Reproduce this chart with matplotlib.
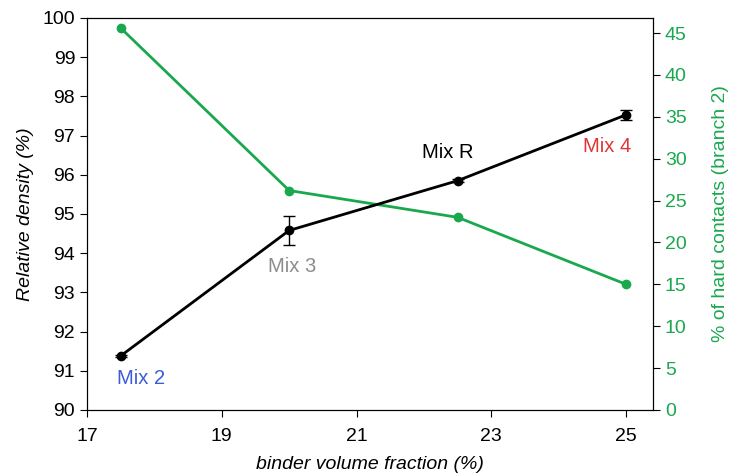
import matplotlib.pyplot as plt

plt.rcParams['font.family'] = ['Liberation Sans', 'DejaVu Sans']

# data
binder = [17.5, 20.0, 22.5, 25.0]
density = [91.38, 94.58, 95.85, 97.53]
density_err = [0.03, 0.38, 0.04, 0.12]
hard_contacts = [45.6, 26.2, 23.0, 15.0]
mix_names = ["Mix 2", "Mix 3", "Mix R", "Mix 4"]
mix_colors = ["#3d5bd6", "#8c8c8c", "#000000", "#e03535"]
label_pos = [(17.8, 90.8), (20.05, 93.67), (22.36, 96.56), (24.72, 96.73)]

green = "#1aa84e"

fig = plt.figure(figsize=(7.33, 4.73), dpi=100)
ax = fig.add_axes([0.1187, 0.1332, 0.7723, 0.8288])
ax2 = ax.twinx()

ax.errorbar(binder, density, yerr=density_err, color="black", lw=2,
            marker="o", ms=6, capsize=4, elinewidth=1, capthick=1, zorder=3)
ax2.plot(binder, hard_contacts, color=green, lw=2, marker="o", ms=6)
ax.set_zorder(ax2.get_zorder() + 1)
ax.patch.set_visible(False)

for name, c, (x, y) in zip(mix_names, mix_colors, label_pos):
    ax.text(x, y, name, color=c, fontsize=14.5, ha="center", va="center")

ax.set_xlim(17, 25.4)
ax.set_ylim(90, 100)
ax.set_xticks([17, 19, 21, 23, 25])
ax.set_yticks(range(90, 101))
ax2.set_ylim(0, 46.8)
ax2.set_yticks(range(0, 46, 5))

ax.tick_params(labelsize=14, direction="out", length=5)
ax.tick_params(axis="x", pad=8)
ax2.tick_params(labelsize=14, direction="out", length=5, labelcolor=green)

ax.set_xlabel("binder volume fraction (%)", fontsize=14, style="italic", labelpad=8)
ax.set_ylabel("Relative density (%)", fontsize=14, style="italic", labelpad=6)
ax2.set_ylabel("% of hard contacts (branch 2)", fontsize=14, color=green, labelpad=18)

fig.savefig("out.png", dpi=100)
